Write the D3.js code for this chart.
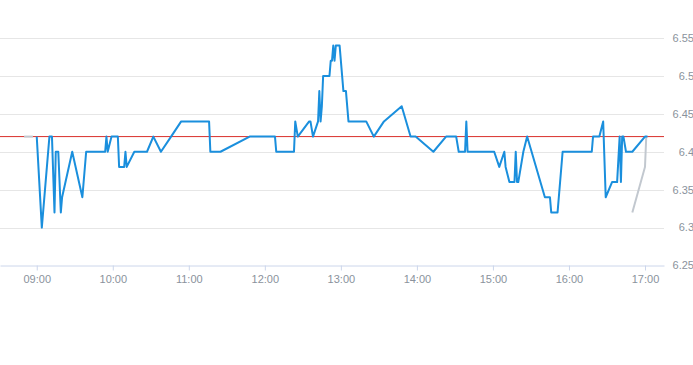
<!DOCTYPE html>
<html>
<head>
<meta charset="utf-8">
<script src="https://cdn.jsdelivr.net/npm/d3@7"></script>
<style>
  html, body { margin: 0; padding: 0; background: #fff; }
  svg { display: block; font-family: "Liberation Sans", Arial, sans-serif; }
</style>
</head>
<body>
<svg id="chart" width="693" height="365"></svg>
<script>
// Price series (blue), minute times
const times = [
  '09:00', '09:04', '09:10', '09:12', '09:14', '09:15', '09:17', '09:19', '09:20', '09:28',
  '09:36', '09:39', '09:54', '09:55', '09:56', '09:59', '10:04', '10:05', '10:09', '10:10',
  '10:11', '10:17', '10:27', '10:32', '10:38', '10:46', '10:54', '11:16', '11:17', '11:25',
  '11:48', '12:08', '12:09', '12:23', '12:24', '12:26', '12:35', '12:36', '12:38', '12:42',
  '12:43', '12:44', '12:45', '12:46', '12:51', '12:52', '12:53', '12:54', '12:55', '12:56',
  '12:59', '13:02', '13:04', '13:06', '13:20', '13:26', '13:34', '13:48', '13:55', '13:59',
  '14:13', '14:23', '14:31', '14:33', '14:38', '14:39', '14:40', '15:01', '15:05', '15:09',
  '15:10', '15:13', '15:17', '15:18', '15:19', '15:20', '15:24', '15:27', '15:41', '15:45',
  '15:46', '15:51', '15:55', '16:18', '16:19', '16:24', '16:27', '16:29', '16:34', '16:38',
  '16:40', '16:41', '16:42', '16:43', '16:45', '16:50', '17:00', '17:02',
];
const prices = [
  6.42, 6.30, 6.42, 6.42, 6.32, 6.40, 6.40, 6.32, 6.34, 6.40,
  6.34, 6.40, 6.40, 6.42, 6.40, 6.42, 6.42, 6.38, 6.38, 6.40,
  6.38, 6.40, 6.40, 6.42, 6.40, 6.42, 6.44, 6.44, 6.40, 6.40,
  6.42, 6.42, 6.40, 6.40, 6.44, 6.42, 6.44, 6.44, 6.42, 6.44,
  6.48, 6.44, 6.46, 6.50, 6.50, 6.52, 6.52, 6.54, 6.52, 6.54,
  6.54, 6.48, 6.48, 6.44, 6.44, 6.42, 6.44, 6.46, 6.42, 6.42,
  6.40, 6.42, 6.42, 6.40, 6.40, 6.44, 6.40, 6.40, 6.38, 6.40,
  6.38, 6.36, 6.36, 6.40, 6.36, 6.36, 6.40, 6.42, 6.34, 6.34,
  6.32, 6.32, 6.40, 6.40, 6.42, 6.42, 6.44, 6.34, 6.36, 6.36,
  6.42, 6.36, 6.42, 6.42, 6.40, 6.40, 6.42, 6.42,
];

// Grey series (only visible at the edges)
const greyTimes1 = ['08:50', '08:57'];
const greyValues1 = [6.42, 6.42];
const greyTimes2 = ['16:50', '17:00', '17:01'];
const greyValues2 = [6.32, 6.38, 6.42];

const refValue = 6.42;
const yTicks = [6.25, 6.3, 6.35, 6.4, 6.45, 6.5, 6.55];
const xTicks = ['09:00', '10:00', '11:00', '12:00', '13:00', '14:00', '15:00', '16:00', '17:00'];
const xDomain = ['08:31', '17:15'];

const parse = d3.timeParse('%H:%M');
const fmtY = (v) => (Math.round(v * 100) / 100).toString();

const plotRight = 664;
const plotTop = 38;
const plotBottom = 265.5;

const x = d3.scaleTime()
  .domain(xDomain.map(parse))
  .range([0, plotRight]);

const y = d3.scaleLinear()
  .domain([6.25, 6.55])
  .range([plotBottom, plotTop]);

const svg = d3.select('#chart');

// Grid
svg.append('g')
  .selectAll('line')
  .data(yTicks.slice(1))
  .join('line')
  .attr('x1', 0)
  .attr('x2', plotRight)
  .attr('y1', (d) => Math.round(y(d)) + 0.5)
  .attr('y2', (d) => Math.round(y(d)) + 0.5)
  .attr('stroke', '#e6e6e6')
  .attr('stroke-width', 1);

// Y labels on the right
svg.append('g')
  .selectAll('text')
  .data(yTicks)
  .join('text')
  .attr('x', 694)
  .attr('y', (d) => y(d))
  .attr('dy', '0.35em')
  .attr('text-anchor', 'end')
  .attr('font-size', 11)
  .attr('fill', '#8a929c')
  .text(fmtY);

// X axis
const xAxis = svg.append('g')
  .attr('transform', `translate(0,${Math.round(plotBottom) - 0.5})`)
  .call(d3.axisBottom(x)
    .tickValues(xTicks.map(parse))
    .tickFormat(d3.timeFormat('%H:%M'))
    .tickSize(5)
    .tickSizeOuter(0)
    .tickPadding(5));
xAxis.select('.domain').attr('stroke', '#ccd6eb');
xAxis.selectAll('.tick line').attr('stroke', '#ccd6eb');
xAxis.selectAll('.tick text')
  .attr('fill', '#8a929c')
  .attr('font-size', 11)
  .attr('font-family', '"Liberation Sans", Arial, sans-serif');

// Reference line
svg.append('line')
  .attr('x1', 0)
  .attr('x2', plotRight)
  .attr('y1', y(refValue))
  .attr('y2', y(refValue))
  .attr('stroke', '#d9302c')
  .attr('stroke-width', 1);

const line = d3.line()
  .x((d) => x(parse(d[0])))
  .y((d) => y(d[1]));

// Grey series
[[greyTimes1, greyValues1], [greyTimes2, greyValues2]].forEach(([ts, vs]) => {
  svg.append('path')
    .datum(d3.zip(ts, vs))
    .attr('fill', 'none')
    .attr('stroke', '#c2c8cf')
    .attr('stroke-width', 2)
    .attr('d', line);
});

// Main series
svg.append('path')
  .datum(d3.zip(times, prices))
  .attr('fill', 'none')
  .attr('stroke', '#1a8fdd')
  .attr('stroke-width', 2)
  .attr('stroke-linejoin', 'round')
  .attr('d', line);
</script>
</body>
</html>
